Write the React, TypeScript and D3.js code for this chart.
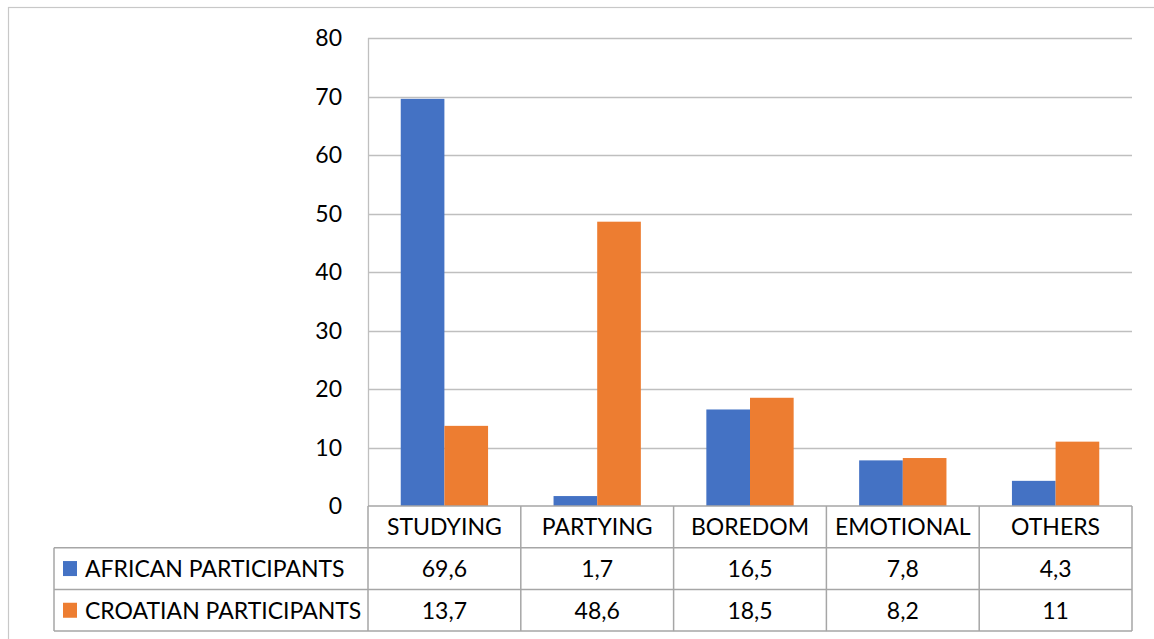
import React, { useEffect, useRef } from 'react';
import * as d3 from 'd3';

const categories = ['STUDYING', 'PARTYING', 'BOREDOM', 'EMOTIONAL', 'OTHERS'];
const seriesNames = ['AFRICAN PARTICIPANTS', 'CROATIAN PARTICIPANTS'];
const africanValues = [69.6, 1.7, 16.5, 7.8, 4.3];
const croatianValues = [13.7, 48.6, 18.5, 8.2, 11];
const seriesColors = ['#4472C4', '#ED7D31'];
const yTicks = [0, 10, 20, 30, 40, 50, 60, 70, 80];

const App: React.FC = () => {
  const svgRef = useRef<SVGSVGElement>(null);

  useEffect(() => {
    if (!svgRef.current) return;
    const svg = d3.select(svgRef.current);
    svg.selectAll('*').remove();

    const width = 1154;
    const height = 639;
    const left = 368;
    const right = 1132;
    const top = 38;
    const bottom = 506;
    const rowH = 41.7;
    const tableLeft = 54;
    const font = 'Lato, "Open Sans", sans-serif';
    const fontSize = 23;
    const gridColor = '#BFBFBF';
    const tableColor = '#A6A6A6';

    const series = [africanValues, croatianValues];

    // outer chart frame (runs off the right and bottom of the picture)
    svg.append('rect')
      .attr('x', 8.5)
      .attr('y', 7.5)
      .attr('width', width)
      .attr('height', height)
      .attr('fill', '#fff')
      .attr('stroke', '#C8C8C8')
      .attr('stroke-width', 1.2);

    const y = d3.scaleLinear().domain([0, 80]).range([bottom, top]);
    const x = d3.scaleBand().domain(categories).range([left, right]);
    // Excel gap width 150%: band = 2 bars + 1.5 bar
    const barW = x.bandwidth() / 3.5;

    // gridlines
    svg.append('g')
      .selectAll('line')
      .data(yTicks.filter(t => t > 0))
      .enter()
      .append('line')
      .attr('x1', left)
      .attr('x2', right)
      .attr('y1', d => Math.round(y(d)) + 0.5)
      .attr('y2', d => Math.round(y(d)) + 0.5)
      .attr('stroke', gridColor)
      .attr('stroke-width', 1.3);

    // left axis line of the plot area
    svg.append('line')
      .attr('x1', left + 0.5).attr('x2', left + 0.5)
      .attr('y1', top).attr('y2', bottom)
      .attr('stroke', gridColor)
      .attr('stroke-width', 1.3);

    // y tick labels
    svg.append('g')
      .selectAll('text')
      .data(yTicks)
      .enter()
      .append('text')
      .attr('x', 342)
      .attr('y', d => y(d))
      .attr('dy', '0.36em')
      .attr('text-anchor', 'end')
      .style('font-family', font)
      .style('font-size', `${fontSize}px`)
      .style('fill', '#000')
      .text(d => d);

    // bars
    series.forEach((vals, si) => {
      svg.append('g')
        .selectAll('rect')
        .data(vals)
        .enter()
        .append('rect')
        .attr('x', (_, i) => (x(categories[i]) as number) + barW * 0.75 + si * barW)
        .attr('y', d => y(d))
        .attr('width', barW)
        .attr('height', d => bottom - y(d))
        .attr('fill', seriesColors[si]);
    });

    // data table
    const table = svg.append('g');
    const tl = (x1: number, y1: number, x2: number, y2: number) =>
      table.append('line')
        .attr('x1', x1).attr('y1', y1).attr('x2', x2).attr('y2', y2)
        .attr('stroke', tableColor)
        .attr('stroke-width', 1.5);

    tl(left, bottom, right, bottom);
    tl(tableLeft, bottom + rowH, right, bottom + rowH);
    tl(tableLeft, bottom + rowH * 2, right, bottom + rowH * 2);
    tl(tableLeft, bottom + rowH * 3, right, bottom + rowH * 3);
    tl(tableLeft, bottom + rowH, tableLeft, bottom + rowH * 3);
    categories.forEach(c => {
      const cx = x(c) as number;
      tl(cx, bottom, cx, bottom + rowH * 3);
    });
    tl(right, bottom, right, bottom + rowH * 3);

    const textStyle = (sel: d3.Selection<SVGTextElement, any, any, any>) =>
      sel.style('font-family', font)
        .style('font-size', `${fontSize}px`)
        .style('fill', '#000')
        .attr('dy', '0.36em');

    table.selectAll('text.cat')
      .data(categories)
      .enter()
      .append('text')
      .attr('class', 'cat')
      .attr('x', d => (x(d) as number) + x.bandwidth() / 2)
      .attr('y', bottom + rowH / 2)
      .attr('text-anchor', 'middle')
      .call(textStyle)
      .text(d => d);

    series.forEach((vals, si) => {
      const cy = bottom + rowH * (si + 1.5);
      table.append('rect')
        .attr('x', 63)
        .attr('y', cy - 7.5)
        .attr('width', 14)
        .attr('height', 15)
        .attr('fill', seriesColors[si]);
      table.append('text')
        .attr('x', 85)
        .attr('y', cy)
        .call(textStyle)
        .text(seriesNames[si]);
      table.selectAll(`text.v${si}`)
        .data(vals)
        .enter()
        .append('text')
        .attr('class', `v${si}`)
        .attr('x', (_, i) => (x(categories[i]) as number) + x.bandwidth() / 2)
        .attr('y', cy)
        .attr('text-anchor', 'middle')
        .call(textStyle)
        .text(d => String(d).replace('.', ','));
    });
  }, []);

  return (
    <div style={{ position: 'absolute', left: 0, top: 0, width: 1154, height: 639, overflow: 'hidden', background: '#fff' }}>
      <svg ref={svgRef} width={1154} height={639} viewBox="0 0 1154 639" />
    </div>
  );
};

export default App;
